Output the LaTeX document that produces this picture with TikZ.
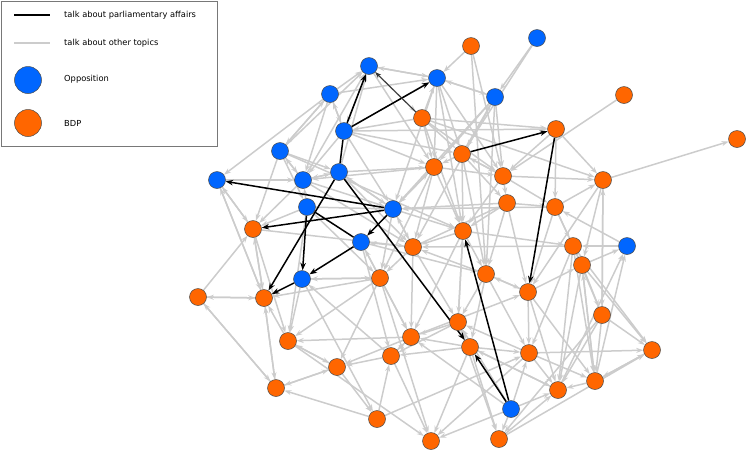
\documentclass[tikz,border=0pt]{standalone}
\usepackage{fontspec}
\setmainfont{DejaVu Sans}
\usetikzlibrary{arrows.meta,backgrounds}
\definecolor{oppblue}{RGB}{0,102,255}
\definecolor{bdporange}{RGB}{255,102,0}
\definecolor{edgegray}{RGB}{204,204,204}
\definecolor{boxgray}{RGB}{120,120,120}
\tikzset{
  opp/.style={circle,minimum size=17pt,inner sep=0pt,fill=oppblue,draw=black!70,line width=0.5pt},
  bdp/.style={circle,minimum size=17pt,inner sep=0pt,fill=bdporange,draw=black!70,line width=0.5pt},
  gedge/.style={draw=edgegray,line width=1.5pt,-{Stealth[length=7pt,width=5pt]}},
  bedge/.style={draw=black,line width=1.5pt,-{Stealth[length=7.5pt,width=5.5pt]}},
  bline/.style={draw=black,line width=1.5pt},
  legtext/.style={anchor=west,inner sep=0pt,font=\fontsize{8.3}{10}\selectfont}
}
\begin{document}
\begin{tikzpicture}[x=1pt,y=-1pt]
\useasboundingbox (0,0) rectangle (747,451);
% legend
\node[draw=boxgray,line width=1pt,minimum width=216pt,minimum height=145pt,anchor=north west,inner sep=0pt] (legbox) at (1,1) {};
\coordinate (l1a) at (14,15); \coordinate (l1b) at (50,15);
\coordinate (l2a) at (14,43); \coordinate (l2b) at (50,43);
\draw[black,line width=2.5pt] (l1a) -- (l1b);
\draw[edgegray,line width=2.5pt] (l2a) -- (l2b);
\node[circle,minimum size=27pt,inner sep=0pt,fill=oppblue,draw=black!70,line width=0.5pt] (lopp) at (28,80) {};
\node[circle,minimum size=27pt,inner sep=0pt,fill=bdporange,draw=black!70,line width=0.5pt] (lbdp) at (28,123) {};
\node[legtext] (t1) at (64,15) {talk about parliamentary affairs};
\node[legtext] (t2) at (64,43) {talk about other topics};
\node[legtext] (t3) at (64,79) {Opposition};
\node[legtext] (t4) at (64,123) {BDP};
% opposition nodes
\foreach \n/\x/\y in {a1/369/66,a2/437/78,a3/330/94,a4/537/38,a5/495/97,a6/344/131,a7/280/151,a8/339/172,a9/303/180,a10/217/180,a11/307/207,a12/393/209,a13/361/242,a14/302/279,a15/627/246,a16/511/409}
  \node[opp] (\n) at (\x,\y) {};
% BDP nodes
\foreach \n/\x/\y in {o1/471/46,o2/422/118,o3/624/95,o4/556/129,o5/737/139,o6/462/154,o7/434/167,o8/503/176,o9/603/180,o10/507/203,o11/555/207,o12/463/231,o13/413/247,o14/573/246,o15/582/265,o16/486/274,o17/528/292,o18/253/229,o19/380/278,o20/198/297,o21/264/298,o22/602/315,o23/458/322,o24/411/337,o25/470/347,o26/529/353,o27/652/350,o28/288/341,o29/391/356,o30/337/367,o31/276/388,o32/558/390,o33/595/381,o34/377/419,o35/431/441,o36/499/439}
  \node[bdp] (\n) at (\x,\y) {};
\begin{scope}[on background layer]
\foreach \a/\b in {a3/a1,a7/a1,a7/a3,a3/a7,a2/a1,a1/a2,a6/a3,a3/a6,a9/a1,a8/a1,a3/a2,o2/a2,a5/a2,a2/a5,a4/a5,o1/a2,o1/o8,a1/o7,a2/o6,a2/o8,a2/a12,a5/o7,a5/o13,a5/o16,a5/o8,a6/a2,o2/a6,o2/o6,o2/o9,a6/o4,a3/a10,a7/a9,a9/a7,a7/o18,a7/a11,a7/a8,a11/a9,a8/a9,a8/a12,a12/a8,a8/o7,a9/a12,a10/o18,o18/a10,o21/a10,a10/o21,a11/a12,a11/o18,a11/o28,a6/a9,a6/o7,a6/a12,a12/o7,o7/a12,a12/o13,o13/a12,a12/o19,o10/a12,o11/a12,a12/o12,o6/o7,o6/o8,o8/o6,o7/o8,o7/o13,o7/o12,o6/o12,o6/o10,o8/o10,o8/o11,o8/o9,o10/o11,o10/o12,o11/o9,o11/o14,o9/o15,o4/o8,o4/o9,o4/o11,o2/o4,o2/o7,o2/o8,o2/o12,o6/o16,o10/o16,o10/o17,o11/o17,o11/o15,o14/o15,o15/o22,o9/o22,o22/o9,o14/o33,o15/o33,o22/o33,o14/o32,o15/o32,a15/o14,o15/a15,o33/a15,o32/a15,o15/o27,o22/o27,o14/o27,o33/o27,o36/o27,o12/o16,o12/o13,o12/o23,o12/o24,o13/o19,o13/o23,o13/o24,o13/a13,o16/o17,o16/o23,o16/o25,o16/o26,o17/o26,o17/o32,o17/o33,o23/o24,o23/o25,o23/o29,o25/o24,o25/o29,o25/o26,o25/o32,o25/o36,o26/o32,o26/o33,o26/o23,a16/o26,a16/o32,a16/o35,a16/o36,a16/o24,o24/o28,o24/o29,o24/o30,o29/o30,o34/o29,o29/a14,o30/o28,o28/o30,o30/o31,o34/o31,o34/o26,o21/o31,o31/o21,o20/o31,o31/o20,o20/o21,o21/o20,o20/o18,o18/o21,o21/o18,o19/o21,o19/a14,o19/o28,o19/o30,o19/o35,o19/o24,o19/a13,a13/o29,a14/o28,o25/o35,o29/o35,o23/o36,o36/o32,o33/o32,o22/o32,o9/o5,o3/o8,a1/o2,a9/o13,o18/o13,a7/o12,a10/a9,a13/o16,o13/o10,o6/a5,a4/o6,o1/o16,a2/o12,o9/o17,o26/o27,o22/o36,o17/o15,o12/o14,o24/o17,o28/o35,o30/o34,a14/o34,a13/o24,a11/o19,o18/o28,a9/o18,a8/o13,a6/o6,o7/o19,o16/o13,o26/o35,o14/o26,a1/a6,a3/a9,a5/a12,a2/o7,a9/a8,o7/a9,o14/o13,a15/o11,o23/o12,o29/o24,o32/o25,a16/o23,o28/o21,a14/o19,o31/o30,o22/o14,o33/o15,o27/o33,o17/o16,o8/o12}
  \draw[gedge] (\a) -- (\b);
% parliamentary affairs
\foreach \a/\b in {a6/a1,a6/a2,a8/o25,a8/o21,a12/a10,a12/o18,a12/a13,a13/a14,a11/a14,a14/o21,o6/o4,o4/o17,a16/o25,a16/o12}
  \draw[bedge] (\a) -- (\b);
\draw[bline] (a8) -- (a6);
\draw[bline] (a11) -- (a13);
\draw[draw=black!80,line width=1pt,-{Stealth[length=6pt,width=4.5pt]}] (o2) -- (a1);
\end{scope}
\end{tikzpicture}
\end{document}
